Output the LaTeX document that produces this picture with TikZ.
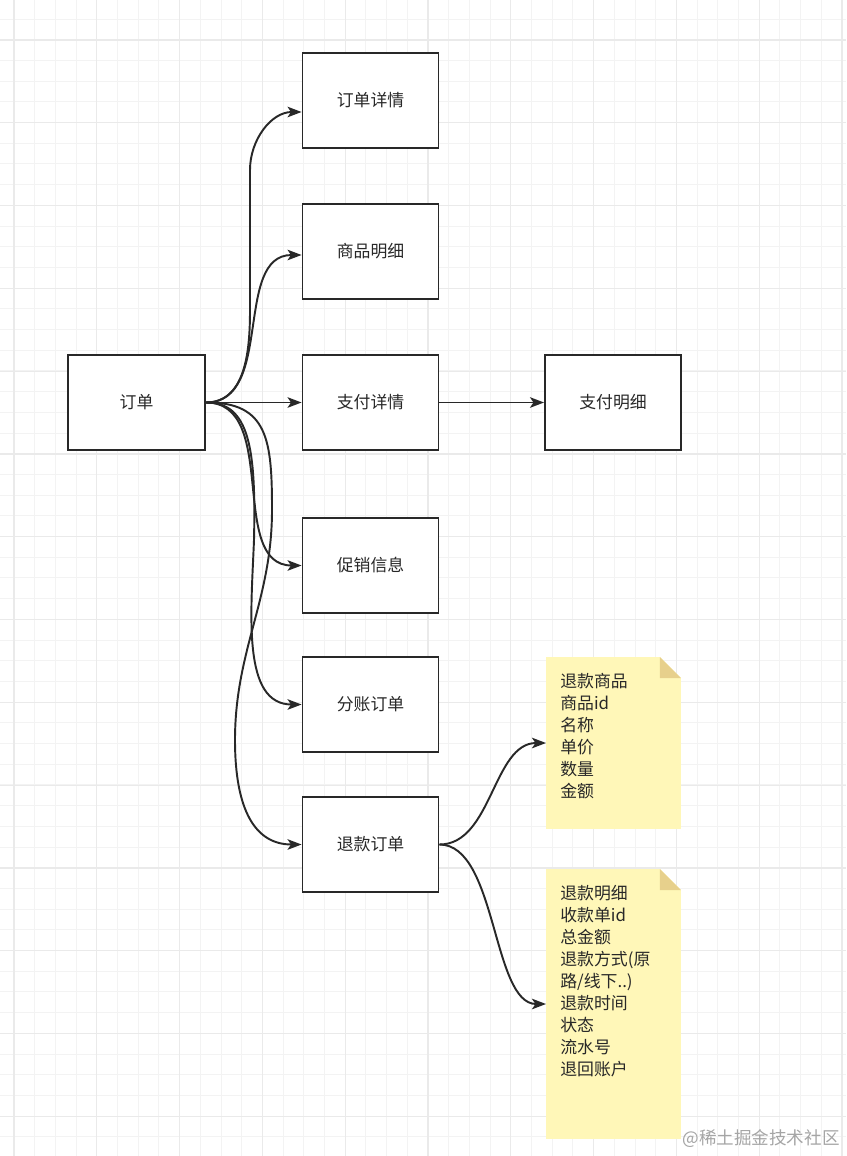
\documentclass[tikz,border=0pt]{standalone}
\usepackage{fontspec}
\newfontfamily\cjk{Noto Sans CJK SC}
\usetikzlibrary{arrows.meta, calc}

\definecolor{ink}{RGB}{40,40,40}
\definecolor{gridminor}{RGB}{243,243,243}
\definecolor{gridmajor}{RGB}{234,234,234}
\definecolor{notefill}{RGB}{255,247,184}
\definecolor{notefold}{RGB}{231,208,140}
\definecolor{markgray}{RGB}{165,165,165}

\tikzset{
  entity/.style={draw=ink, line width=1.1pt, fill=white, minimum width=2.72cm, minimum height=1.9cm,
    inner sep=0pt, text=ink, font=\cjk\fontsize{9.6}{12}\selectfont},
  link/.style={ink, line width=1.1pt, -{Stealth[length=8pt,width=6pt,inset=2pt]}},
  notebox/.style={minimum width=2.7cm, inner sep=0pt, outer sep=0pt},
  notetext/.style={anchor=north west, inner sep=0pt, align=left, text=ink,
    font=\cjk\fontsize{9.6}{12.5}\selectfont},
}

\begin{document}
\begin{tikzpicture}[x=0.02cm, y=-0.02cm]
\useasboundingbox (0,0) rectangle (846,1156);
% background grid
\fill[white] (0,0) rectangle (846,1156);
\foreach \k in {0,...,40} \draw[gridminor, line width=0.55pt] ({14+20.7*\k},0) -- ({14+20.7*\k},1156);
\foreach \k in {0,...,55} \draw[gridminor, line width=0.55pt] (0,{19+20.7*\k}) -- (846,{19+20.7*\k});
\foreach \k in {0,...,10} \draw[gridmajor, line width=0.6pt] ({14+82.8*\k},0) -- ({14+82.8*\k},1156);
\foreach \k in {0,...,13} \draw[gridmajor, line width=0.6pt] (0,{40+82.8*\k}) -- (846,{40+82.8*\k});

% entities
\node[entity, minimum width=2.74cm] (order) at (136.5,402.5) {订单};
\node[entity] (orderDetail) at (370.5,100.5) {订单详情};
\node[entity] (goodsDetail) at (370.5,251.5) {商品明细};
\node[entity] (payDetail) at (370.5,402.5) {支付详情};
\node[entity] (payItems) at (613,402.5) {支付明细};
\node[entity] (promo) at (370.5,565.5) {促销信息};
\node[entity] (split) at (370.5,704.5) {分账订单};
\node[entity] (refund) at (370.5,844.5) {退款订单};

% notes with folded corner
\node[notebox, minimum height=3.44cm] (refundGoods) at (613.5,743) {};
\node[notebox, minimum height=5.4cm] (refundInfo) at (613.5,1004) {};
\foreach \n in {refundGoods, refundInfo} {
  \fill[notefill] (\n.north west) -- ($(\n.north east)+(-21,0)$) -- ($(\n.north east)+(0,21)$)
    -- (\n.south east) -- (\n.south west) -- cycle;
  \fill[notefold] ($(\n.north east)+(-21,0)$) -- ($(\n.north east)+(0,21)$)
    -- ($(\n.north east)+(-21,21)$) -- cycle;
}
\node[notetext] (refundGoodsText) at ($(refundGoods.north west)+(14,16)$)
  {退款商品\\商品id\\名称\\单价\\数量\\金额};
\node[notetext] (refundInfoText) at ($(refundInfo.north west)+(14,16)$)
  {退款明细\\收款单id\\总金额\\退款方式(原\\路/线下..)\\退款时间\\状态\\流水号\\退回账户};

% links out of the order
\draw[link] (order.east) to[out=0,in=-90] (250,310) -- (250,170)
  to[out=90,in=180] ([yshift=-0.23cm]orderDetail.west);
\draw[link] (order.east) to[out=0,in=180] ([yshift=-0.07cm]goodsDetail.west);
\draw[link] (order.east) -- (payDetail.west);
\draw[link] (order.east) to[out=0,in=180] (promo.west);
\draw[link] (order.east) .. controls (250,402) and (256,450) .. (254,540)
  .. controls (251,615) and (242,704.5) .. (split.west);
\draw[link] (order.east) .. controls (268,402) and (272,440) .. (272,510)
  .. controls (272,600) and (235,650) .. (235,740)
  .. controls (235,810) and (255,844.5) .. (refund.west);
\draw[link] (payDetail.east) -- (payItems.west);

% links out of the refund
\draw[link] (refund.east) .. controls (492,844.5) and (493,743) .. (refundGoods.west);
\draw[link] (refund.east) .. controls (497,844.5) and (492,1004) .. (refundInfo.west);

% watermark
\node[text=markgray, font=\cjk\fontsize{10}{12}\selectfont] (mark) at (761,1139) {@稀土掘金技术社区};
\end{tikzpicture}
\end{document}
